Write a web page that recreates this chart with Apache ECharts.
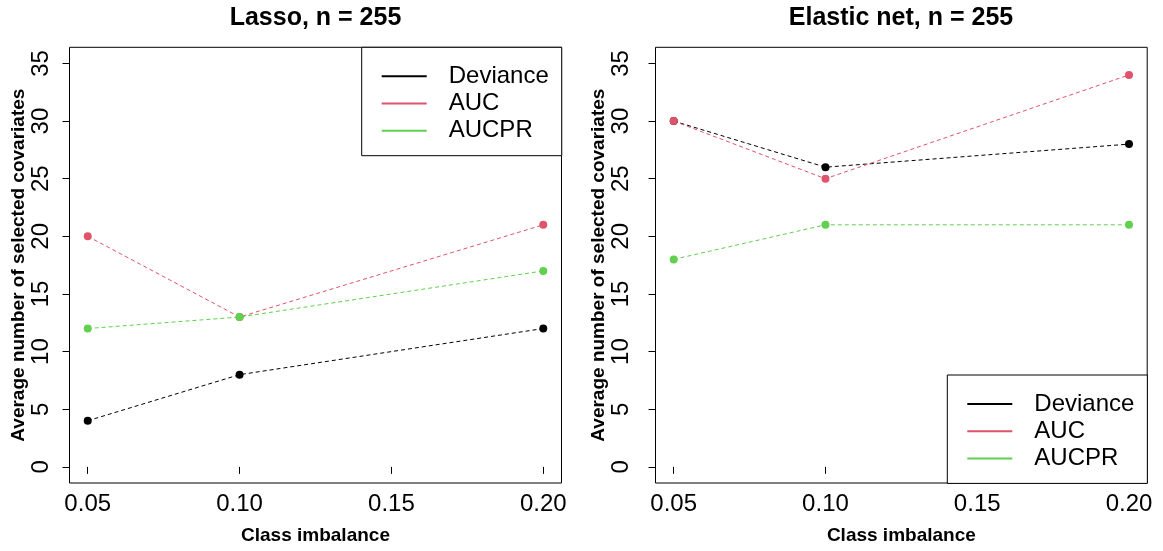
<!DOCTYPE html>
<html>
<head>
<meta charset="utf-8">
<title>Average number of selected covariates</title>
<script src="https://cdn.jsdelivr.net/npm/echarts@6/dist/echarts.min.js"></script>
<style>
  html, body { margin: 0; padding: 0; background: #fff; }
  #chart { width: 1163px; height: 551px; }
</style>
</head>
<body>
<div id="chart"></div>
<script>
// Class imbalance levels on the x axis
const imbalance = [0.05, 0.10, 0.20];

// Lasso panel
const lassoDeviance = [4, 8, 12];
const lassoAUC = [20, 13, 21];
const lassoAUCPR = [12, 13, 17];

// Elastic net panel
const enetDeviance = [30, 26, 28];
const enetAUC = [30, 25, 34];
const enetAUCPR = [18, 21, 21];

// Tick positions
const xTicks = [0.05, 0.10, 0.15, 0.20];
const yTicks = [0, 5, 10, 15, 20, 25, 30, 35];

const seriesNames = ['Deviance', 'AUC', 'AUCPR'];
const seriesColors = ['#000000', '#DF536B', '#61D04F'];

const FONT = '"Liberation Sans", Arial, Helvetica, sans-serif';

function pairs(ys) {
  return imbalance.map((x, i) => [x, ys[i]]);
}

function xAxisFor(gridIndex) {
  return {
    type: 'value',
    gridIndex: gridIndex,
    min: 0.044,
    max: 0.206,
    name: 'Class imbalance',
    nameLocation: 'middle',
    nameGap: 43,
    nameTextStyle: { fontFamily: FONT, fontSize: 19, fontWeight: 'bold', color: '#000' },
    splitLine: { show: false },
    axisLine: { show: false },
    axisTick: {
      show: true, inside: false, length: 7,
      customValues: xTicks,
      lineStyle: { color: '#000', width: 1 }
    },
    axisLabel: {
      customValues: xTicks,
      margin: 9,
      fontFamily: FONT, fontSize: 24, color: '#000',
      formatter: v => v.toFixed(2)
    }
  };
}

function yAxisFor(gridIndex, labelMargin, nameGap) {
  return {
    type: 'value',
    gridIndex: gridIndex,
    min: -1.4,
    max: 36.4,
    name: 'Average number of selected covariates',
    nameLocation: 'middle',
    nameRotate: 90,
    nameGap: nameGap,
    nameTextStyle: { fontFamily: FONT, fontSize: 19, fontWeight: 'bold', color: '#000' },
    splitLine: { show: false },
    axisLine: { show: false },
    axisTick: {
      show: true, inside: false, length: 7,
      customValues: yTicks,
      lineStyle: { color: '#000', width: 1 }
    },
    axisLabel: {
      customValues: yTicks,
      rotate: 90,
      margin: labelMargin,
      fontFamily: FONT, fontSize: 24, color: '#000'
    }
  };
}

function lineSeries(name, idx, values, gridIndex) {
  return {
    name: name,
    type: 'line',
    xAxisIndex: gridIndex,
    yAxisIndex: gridIndex,
    data: pairs(values),
    symbol: 'circle',
    symbolSize: 8,
    showSymbol: true,
    animation: false,
    color: seriesColors[idx],
    itemStyle: { color: seriesColors[idx] },
    lineStyle: { color: seriesColors[idx], width: 1, type: [4, 3] },
    emphasis: { disabled: true },
    z: 2 + idx
  };
}

function legendAt(left, top) {
  return {
    data: seriesNames,
    orient: 'vertical',
    left: left,
    top: top,
    icon: 'rect',
    itemWidth: 45,
    itemHeight: 2,
    itemGap: 3.2,
    padding: [17, 13, 13, 20],
    borderColor: '#000',
    borderWidth: 1,
    borderRadius: 0,
    backgroundColor: '#fff',
    selectedMode: false,
    textStyle: {
      fontFamily: FONT, fontSize: 24, color: '#000',
      lineHeight: 24,
      padding: [0, 0, 0, 17]
    }
  };
}

const chart = echarts.init(document.getElementById('chart'), null, { renderer: 'canvas' });

chart.setOption({
  backgroundColor: '#fff',
  animation: false,
  title: [
    {
      text: 'Lasso, n = 255',
      left: 315.5, top: 6, textAlign: 'center', padding: 0,
      textStyle: { fontFamily: FONT, fontSize: 25, fontWeight: 'bold', color: '#000' }
    },
    {
      text: 'Elastic net, n = 255',
      left: 901, top: 6, textAlign: 'center', padding: 0,
      textStyle: { fontFamily: FONT, fontSize: 25, fontWeight: 'bold', color: '#000' }
    }
  ],
  legend: [legendAt(361.7, 47.3), legendAt(947.3, 375)],
  grid: [
    { left: 69.5, top: 47.3, width: 492, height: 435.7, show: true, borderColor: '#000', borderWidth: 1, backgroundColor: 'transparent', containLabel: false },
    { left: 655.5, top: 47.3, width: 491.7, height: 435.7, show: true, borderColor: '#000', borderWidth: 1, backgroundColor: 'transparent', containLabel: false }
  ],
  xAxis: [xAxisFor(0), xAxisFor(1)],
  yAxis: [yAxisFor(0, 16, 39), yAxisFor(1, 22, 46)],
  series: [
    lineSeries('Deviance', 0, lassoDeviance, 0),
    lineSeries('AUC', 1, lassoAUC, 0),
    lineSeries('AUCPR', 2, lassoAUCPR, 0),
    lineSeries('Deviance', 0, enetDeviance, 1),
    lineSeries('AUC', 1, enetAUC, 1),
    lineSeries('AUCPR', 2, enetAUCPR, 1)
  ]
});
</script>
</body>
</html>
